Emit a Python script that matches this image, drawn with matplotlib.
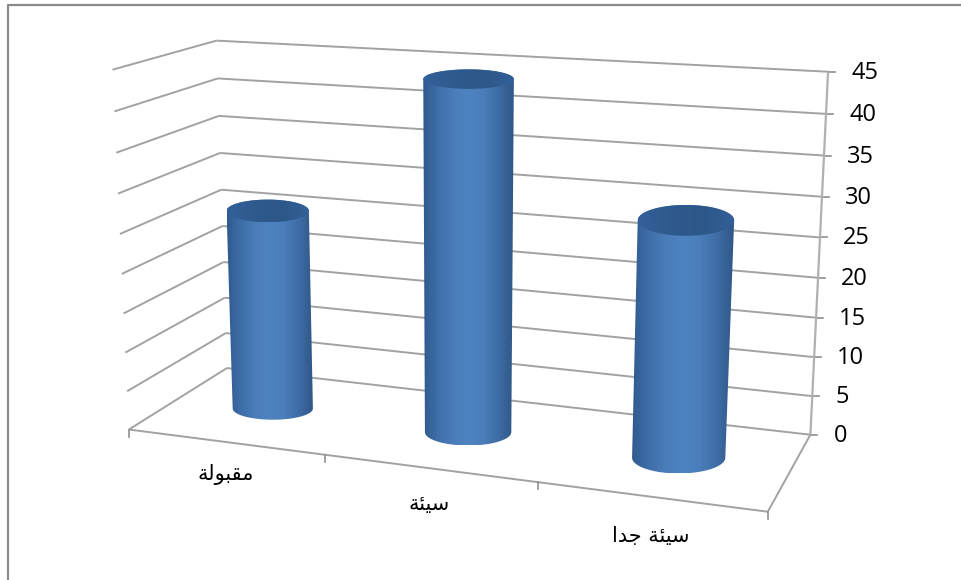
import numpy as np
import matplotlib
matplotlib.use("Agg")
import matplotlib.pyplot as plt
from matplotlib.colors import LinearSegmentedColormap
from matplotlib.patches import Polygon

# Category names: Arabic in presentation forms, visual order, since matplotlib does no shaping
categories = ["\uFE94\uFEDF\uFEEE\uFE92\uFED8\uFEE3",          # مقبولة
              "\uFE94\uFE8C\uFEF4\uFEB3",                      # سيئة
              "\uFE8D\uFEAA\uFE9F \uFE94\uFE8C\uFEF4\uFEB3"]   # سيئة جدا
values = [26, 44, 29]
value_ticks = [0, 5, 10, 15, 20, 25, 30, 35, 40, 45]

W, H = 962, 580
GRID = "#a2a2a2"
AXIS = "#8f8f8f"

# --- camera: 3x4 projective matrix fitted to the chart box (category, depth, value) -> pixel
box_3d = np.array([[0, 0, 0], [3, 0, 0], [3, 1, 0], [0, 1, 0], [0, 1, 45], [3, 1, 45], [0, 0, 45],
                   [1, 0, 0], [2, 0, 0]], float)
box_px = np.array([[130, 428], [767, 512], [811, 433], [226, 369], [217, 41], [828, 72], [112, 69],
                   [325, 455], [538, 484]], float)
rows = []
for (a, b, c), (x, y) in zip(box_3d, box_px):
    p = [a, b, c, 1]
    rows.append(p + [0, 0, 0, 0] + [-x * q for q in p])
    rows.append([0, 0, 0, 0] + p + [-y * q for q in p])
P = np.linalg.svd(np.array(rows))[2][-1].reshape(3, 4)


def proj(u, d, v):
    q = P @ np.array([u, d, v, 1.0])
    return q[:2] / q[2]


fig = plt.figure(figsize=(W / 100, H / 100), dpi=100, facecolor="white")
ax = fig.add_axes([0, 0, 1, 1])
ax.set_axis_off()


def seg(a, b, color=GRID, lw=1.4, z=2):
    pa, pb = proj(*a), proj(*b)
    ax.plot([pa[0], pb[0]], [pa[1], pb[1]], color=color, lw=lw, zorder=z, solid_capstyle="butt")


# outer frame (top and left edges only are visible)
ax.plot([8.5, 8.5, W], [H, 4.5, 4.5], color="#8a8a8a", lw=1.6, zorder=1)

# walls
for v in value_ticks:
    seg((0, 0, v), (0, 1, v))
    seg((0, 1, v), (3, 1, v))
    pt = proj(3, 1, v)
    ax.plot([pt[0], pt[0] + 7], [pt[1], pt[1]], color=AXIS, lw=1.2, zorder=2)
    ax.text(pt[0] + 23, pt[1] + 1, str(v), family="Open Sans", fontsize=17, color="black",
            ha="left", va="center", zorder=5)
seg((3, 1, 0), (3, 1, 45), color="#b0b0b0", lw=1.6)
seg((0, 0, 0), (3, 0, 0))
seg((3, 0, 0), (3, 1, 0))
for u in range(4):
    pt = proj(u, 0, 0)
    ax.plot([pt[0], pt[0]], [pt[1], pt[1] + 7], color=AXIS, lw=1.2, zorder=2)

# cylinders
body_cmap = LinearSegmentedColormap.from_list(
    "body", ["#2f5a8e", "#3f6fa9", "#4a7db9", "#4e83c2", "#4a7db9", "#3e6ca4", "#2f5687"])
cap_cmap = LinearSegmentedColormap.from_list("cap", ["#33609a", "#2f5a8e", "#2d5788", "#33609a"])
grad = np.linspace(0, 1, 256).reshape(1, -1)
t_up = np.linspace(np.pi, 2 * np.pi, 60)
t_low = np.linspace(np.pi, 0, 60)


def ellipse_at(u, v):
    c = proj(u, 0.5, v)
    rx = 0.213 * (proj(u + 0.5, 0.5, v)[0] - proj(u - 0.5, 0.5, v)[0])
    flat = 0.31 + 0.03 * (u - 1.5) - 0.005 * max(v - 25, 0)
    return c, rx, flat * rx


for i, val in enumerate(values):
    u = i + 0.5
    (ct, rt, ryt) = ellipse_at(u, val)
    (cb, rb, ryb) = ellipse_at(u, 0)
    top_up = np.c_[ct[0] + rt * np.cos(t_up), ct[1] + ryt * np.sin(t_up)]
    bot_low = np.c_[cb[0] + rb * np.cos(t_low[::-1]), cb[1] + ryb * np.sin(t_low[::-1])]
    outline = np.r_[top_up, bot_low]
    x0, x1 = outline[:, 0].min(), outline[:, 0].max()
    y0, y1 = outline[:, 1].min(), outline[:, 1].max()
    body = ax.imshow(grad, cmap=body_cmap, extent=(x0, x1, y1, y0), aspect="auto", zorder=3)
    body.set_clip_path(Polygon(outline, closed=True, transform=ax.transData))
    cap_pts = np.c_[ct[0] + rt * np.cos(np.linspace(0, 2 * np.pi, 120)),
                    ct[1] + ryt * np.sin(np.linspace(0, 2 * np.pi, 120))]
    cap = ax.imshow(grad, cmap=cap_cmap, extent=(ct[0] - rt, ct[0] + rt, ct[1] + ryt, ct[1] - ryt),
                    aspect="auto", zorder=4)
    cap.set_clip_path(Polygon(cap_pts, closed=True, transform=ax.transData))

# category labels
for i, name in enumerate(categories):
    pt = proj(i + 0.5, 0, 0)
    ax.text(pt[0], pt[1] + 33 + 3 * i, name, family="DejaVu Sans", fontsize=15, color="black",
            ha="center", va="center", zorder=5)

ax.set_xlim(0, W)
ax.set_ylim(H, 0)
fig.savefig("out.png", dpi=100, facecolor="white")
